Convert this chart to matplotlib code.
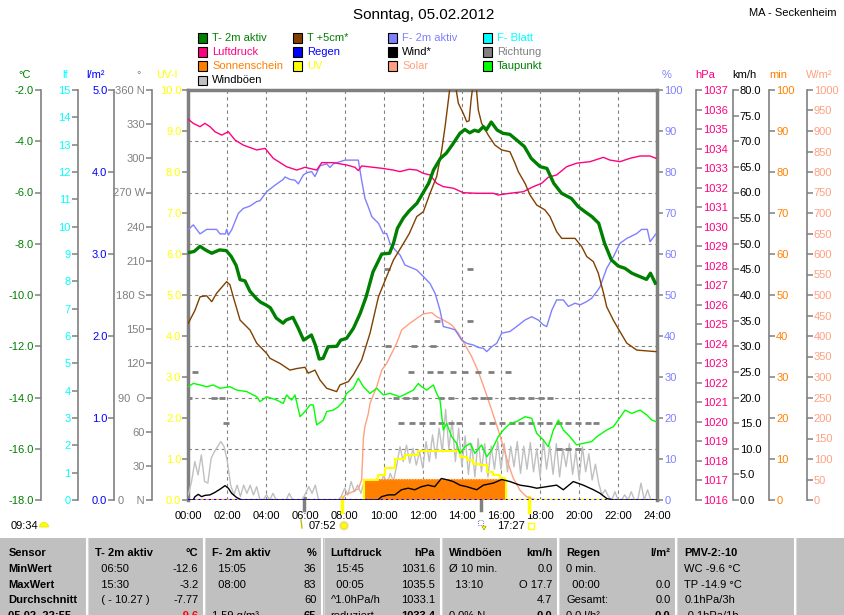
import numpy as np
import matplotlib
matplotlib.use('Agg')
import matplotlib.pyplot as plt
from matplotlib.patches import Rectangle, Circle, Wedge
from matplotlib.lines import Line2D
from matplotlib.transforms import IdentityTransform

plt.rcParams['font.family'] = ['Liberation Sans', 'DejaVu Sans']
plt.rcParams['font.size'] = 8

W, H = 845, 615

# ---------------- data (hours since midnight) ----------------
t2m_h = [0.0, 0.3, 0.6, 0.9, 1.2, 1.6, 1.95, 2.2, 2.45, 2.65, 2.9, 3.15, 3.5, 3.7, 4.0, 4.2,
         4.5, 4.85, 5.0, 5.35, 5.6, 5.9, 6.3, 6.5, 6.7, 6.9, 7.15, 7.6, 7.8, 8.1, 8.45, 8.8,
         9.1, 9.45, 9.9, 10.3, 10.5, 10.7, 11.0, 11.3, 11.7, 12.0, 12.3, 12.55, 12.9, 13.2,
         13.5, 13.9, 14.15, 14.4, 14.65, 14.85, 15.1, 15.25, 15.5, 15.8, 16.1, 16.45, 16.8,
         17.2, 17.55, 18.0, 18.35, 18.7, 19.1, 19.6, 19.95, 20.3, 20.65, 21.0, 21.3, 21.65,
         22.0, 22.35, 22.7, 23.1, 23.45, 23.65, 23.9]
t2m_c = [-8.35, -8.3, -8.1, -8.25, -8.37, -8.24, -8.27, -8.5, -8.85, -9.4, -9.45, -9.85,
         -10.15, -10.28, -10.4, -10.5, -10.9, -11.1, -10.98, -10.87, -11.25, -11.76, -11.56,
         -11.95, -12.5, -12.47, -12.02, -12.0, -11.76, -11.69, -11.3, -10.71, -10.07, -9.1,
         -8.4, -8.37, -7.98, -7.4, -7.0, -6.72, -6.42, -6.03, -5.64, -5.12, -4.67, -4.47,
         -4.15, -3.69, -3.54, -3.67, -3.57, -3.62, -3.43, -3.56, -3.25, -3.56, -3.69, -3.73,
         -3.95, -4.21, -4.67, -4.99, -5.06, -5.64, -6.03, -6.23, -6.55, -6.75, -6.94, -7.2,
         -7.98, -8.63, -8.87, -8.96, -9.15, -9.28, -9.39, -9.15, -9.54]

t5_h = [0.0, 0.34, 0.6, 0.94, 1.2, 1.45, 1.96, 2.13, 2.3, 2.65, 3.16, 3.5, 4.01, 4.18, 4.69,
        5.2, 5.55, 5.97, 6.14, 6.48, 6.74, 7.08, 7.59, 7.76, 8.19, 8.44, 8.87, 9.3, 9.73,
        10.15, 10.5, 11.0, 11.31, 11.69, 12.03, 12.37, 12.71, 12.97, 13.14, 13.31, 13.45,
        13.6, 13.82, 14.07, 14.25, 14.37, 14.47, 14.6, 14.7, 14.84, 15.01, 15.35, 15.69,
        16.04, 16.46, 16.72, 16.89, 17.23, 17.49, 17.83, 18.25, 18.51, 18.85, 19.11, 19.79,
        20.13, 20.39, 20.73, 20.98, 21.24, 21.41, 21.75, 22.09, 22.44, 22.95, 23.93]
t5_c = [-11.1, -10.6, -10.07, -10.03, -10.26, -9.93, -9.48, -9.6, -10.07, -10.98, -11.37,
        -11.88, -12.28, -12.47, -12.67, -12.93, -12.87, -12.82, -13.05, -12.93, -13.32,
        -13.64, -13.77, -13.51, -13.38, -13.12, -12.54, -11.49, -10.07, -9.28, -8.63, -8.0,
        -7.6, -6.94, -6.75, -6.03, -5.38, -4.34, -3.43, -2.39, -1.5, -1.5, -2.52, -2.91,
        -3.24, -3.2, -2.39, -1.6, -1.6, -2.78, -3.3, -3.76, -4.15, -4.34, -4.41, -4.86,
        -5.19, -5.64, -6.1, -6.49, -6.68, -6.94, -7.53, -7.79, -7.79, -8.11, -8.5, -8.7,
        -9.15, -9.9, -10.46, -10.98, -11.43, -11.88, -12.15, -12.21]

rh_h = [0.0, 0.26, 0.6, 0.94, 1.45, 1.62, 1.9, 1.96, 2.05, 2.22, 2.56, 2.81, 3.16, 3.5, 3.67,
        4.01, 4.44, 4.86, 4.95, 5.2, 5.46, 5.63, 5.89, 6.06, 6.31, 6.48, 6.74, 7.08, 7.25,
        7.42, 8.02, 8.7, 8.87, 9.04, 9.21, 9.39, 9.73, 9.98, 10.15, 10.32, 10.58, 10.83,
        11.09, 11.35, 11.69, 12.03, 12.37, 12.63, 12.88, 13.05, 13.39, 13.65, 13.99, 14.25,
        14.59, 14.84, 15.1, 15.27, 15.53, 15.78, 16.04, 16.46, 16.8, 17.23, 17.57, 17.91,
        18.17, 18.34, 18.6, 18.85, 19.19, 19.45, 19.79, 20.05, 20.39, 20.64, 20.9, 21.07,
        21.41, 21.75, 22.09, 22.44, 22.95, 23.2, 23.49, 23.63, 23.93]
rh_pct = [66, 67.1, 64.9, 66, 66, 64.9, 64.9, 66, 64.6, 65.9, 69.9, 71.1, 71.7, 72.8, 73,
          75.2, 76.8, 78.2, 78.8, 78.2, 78, 77.1, 79.3, 79.8, 80.1, 78.9, 81.5, 82, 81.1,
          82, 82.9, 82.9, 78, 73.6, 71.5, 69.1, 67.5, 65, 65, 62.6, 61, 59.8, 57.3, 56.8,
          56.1, 54.5, 52.8, 50.4, 46.3, 42.3, 41.9, 41.5, 39, 38.2, 37.8, 37.2, 37, 36.2,
          37.4, 38.2, 40.7, 41.1, 42.3, 43.9, 44.7, 43.9, 42.7, 42.3, 46.3, 48.8, 48.8, 47.2,
          48, 47.6, 48.4, 49.2, 50.8, 52, 56.5, 59.3, 62.6, 63.8, 65, 66, 66, 63, 64.9]

p_h = [0.0, 0.26, 0.6, 0.85, 1.11, 1.37, 1.71, 2.05, 2.39, 2.81, 3.5, 3.93, 4.35, 5.03, 5.55,
       5.97, 6.57, 6.83, 7.42, 8.1, 8.53, 8.7, 8.87, 9.47, 9.9, 10.49, 10.83, 11.31, 11.69,
       12.03, 12.37, 12.71, 13.05, 13.56, 14.07, 14.76, 15.61, 15.86, 16.46, 17.14, 17.66,
       18.08, 18.42, 18.85, 19.36, 19.87, 20.56, 21.24, 21.58, 22.09, 22.6, 23.12, 23.63,
       23.93]
p_hpa = [1035.5, 1035.29, 1035.12, 1035.29, 1035.12, 1034.86, 1034.69, 1034.86, 1034.44,
         1034.18, 1033.93, 1034.01, 1033.5, 1033.07, 1032.9, 1033.04, 1032.9, 1033.28,
         1033.28, 1033.16, 1033.04, 1032.87, 1033.11, 1033.04, 1032.99, 1032.9, 1032.82,
         1032.94, 1032.9, 1032.73, 1032.65, 1032.22, 1032.05, 1031.97, 1031.74, 1031.71,
         1031.71, 1031.62, 1031.71, 1031.79, 1032.05, 1032.22, 1032.53, 1032.65, 1033.07,
         1033.25, 1033.33, 1033.55, 1033.41, 1033.33, 1033.5, 1033.62, 1033.62, 1033.5]

td_h = [0.0, 0.26, 0.6, 0.94, 1.28, 1.62, 2.13, 2.48, 2.99, 3.5, 3.67, 4.01, 4.52, 4.86, 5.03,
        5.29, 5.46, 5.72, 5.97, 6.23, 6.4, 6.57, 6.91, 7.08, 7.42, 7.68, 7.93, 8.1, 8.44,
        8.7, 8.96, 9.3, 9.64, 9.98, 10.32, 10.83, 11.18, 11.52, 11.77, 11.94, 12.2, 12.54,
        12.71, 12.88, 13.05, 13.22, 13.48, 13.73, 13.9, 14.16, 14.42, 14.67, 15.01, 15.27,
        15.53, 15.86, 16.12, 16.46, 16.8, 17.23, 17.57, 17.83, 18.17, 18.42, 18.68, 18.94,
        19.19, 19.53, 19.87, 20.21, 20.64, 20.9, 21.41, 21.75, 22.0, 22.35, 22.69, 23.12,
        23.46, 23.72, 23.93]
td_c = [-13.58, -13.45, -13.51, -13.58, -13.51, -13.64, -13.58, -13.71, -13.77, -13.97,
        -14.16, -13.97, -14.1, -14.23, -13.9, -14.1, -13.9, -14.75, -14.55, -14.29, -14.29,
        -15.07, -14.88, -14.55, -14.49, -14.36, -14.16, -13.84, -13.64, -13.25, -13.58,
        -13.84, -13.64, -13.9, -13.84, -13.97, -13.84, -13.71, -13.45, -13.58, -13.71,
        -13.51, -13.84, -14.1, -15.27, -15.01, -15.53, -15.79, -16.18, -15.92, -15.79,
        -16.18, -15.85, -16.31, -16.05, -15.53, -15.27, -15.01, -14.94, -14.75, -14.81,
        -15.4, -15.66, -15.92, -15.27, -14.88, -15.27, -15.53, -15.85, -15.79, -15.72,
        -15.53, -15.27, -15.14, -14.88, -14.49, -14.62, -14.49, -14.68, -14.88, -14.94]

# gusts, 10 minute values
gust_kmh = [1.0, 3.6, 7.5, 4.9, 8.8, 3.6, 3.3, 8.1, 9.4, 10.4, 11.4, 10.4,
            7.5, 2.9, 1.0, 2.9, 0.7, 2.9, 1.3, 2.9, 1.0, 2.6, 0.0, 0.0,
            1.0, 0.0, 1.3, 0.0, 0.0, 0.0, 0.0, 1.3, 0.0, 0.0, 0.0, 0.0,
            1.3, 2.6, 1.3, 2.9, 0.0, 0.0, 0.0, 0.0, 0.0, 0.0, 0.0, 0.7,
            2.3, 1.0, 3.6, 1.6, 2.9, 1.3, 3.6, 2.3, 3.9, 1.6, 4.2, 2.9,
            4.9, 2.9, 5.2, 3.6, 6.8, 10.4, 7.5, 10.7, 7.2, 10.1, 6.8, 9.4,
            6.2, 11.4, 7.5, 12.7, 8.1, 14.0, 9.4, 17.7, 10.0, 15.5, 7.5, 14.0,
            6.5, 12.5, 5.0, 11.0, 4.5, 12.0, 5.5, 11.0, 4.5, 10.5, 6.0, 11.5,
            6.0, 11.0, 5.5, 10.5, 6.5, 11.4, 5.2, 10.5, 6.0, 11.2, 5.5, 10.0,
            4.5, 11.7, 6.0, 10.5, 5.0, 11.0, 4.5, 10.0, 6.5, 11.0, 5.0, 9.5,
            4.0, 10.4, 5.5, 9.0, 3.9, 7.0, 3.3, 1.0, 2.0, 0.7, 0.0, 1.6,
            0.0, 0.0, 1.0, 0.0, 1.6, 0.0, 0.0, 3.3, 0.0, 2.0, 0.0, 0.0]
gust_h = np.arange(len(gust_kmh)) / 6.0

wind_h = [0.0, 0.25, 0.34, 0.51, 0.68, 0.85, 1.11, 1.37, 1.62, 1.88, 2.05, 2.22, 2.47, 2.73,
          9.7, 9.89, 10.23, 10.57, 10.91, 11.25, 11.59, 11.93, 12.27, 12.61, 12.95, 13.29,
          13.56, 13.9, 14.25, 14.76, 15.1, 15.61, 16.04, 16.46, 16.97, 17.49, 17.83, 18.34,
          18.85, 19.19, 19.7, 20.21, 20.73, 21.07, 21.41, 21.75, 24.0]
wind_kmh = [0, 0, 0.65, 1.1, 0.65, 0.9, 1.0, 1.5, 2.1, 2.8, 2.3, 1.3, 0.5, 0,
            0, 0.65, 1.0, 1.0, 2.0, 2.3, 2.0, 2.6, 2.9, 2.6, 4.2, 3.9,
            3.6, 2.9, 2.6, 2.0, 2.9, 3.3, 4.0, 3.6, 2.9, 2.6, 2.3, 2.6,
            2.9, 2.0, 3.6, 2.9, 2.0, 1.3, 0.3, 0, 0]

uv_h = [8.95, 9.0, 9.6, 9.72, 10.06, 10.57, 11.08, 11.76, 13.6, 13.9, 14.25, 14.59, 14.93,
        15.27, 15.61, 15.95, 16.2, 16.25, 24.0]
uv_idx = [0, 0.49, 0.49, 0.61, 0.77, 1.0, 1.1, 1.2, 1.2, 1.06, 0.98, 0.89, 0.85,
          0.69, 0.61, 0.53, 0.49, 0, 0]

sun_h = [8.95, 16.25]
sun_min = [5.1, 5.1]

solar_h = [0.0, 7.85, 8.02, 8.36, 8.7, 8.87, 8.96, 9.04, 9.21, 9.3, 9.64, 9.9, 10.15, 10.41,
           10.66, 10.92, 11.34, 11.69, 12.03, 12.46, 12.71, 13.05, 13.48, 13.82, 14.16,
           14.5, 14.84, 15.18, 15.52, 15.86, 16.12, 16.37, 16.63, 16.97, 17.31, 17.65, 17.8,
           24.0]
solar_wm2 = [0, 0, 12, 19, 27, 49, 150, 180, 210, 236, 276, 317, 333, 358, 382, 415, 431,
             443, 454, 457, 447, 439, 427, 407, 378, 350, 313, 268, 220, 171, 130, 89, 53,
             24, 8, 2, 0, 0]

rain_h = [0.0, 24.0]
rain_mm = [0.0, 0.0]

# wind direction readings grouped by direction (degrees)
dir_groups = {
    112.5: [0.35, 11.4, 12.35, 12.9, 13.55, 14.15, 14.85, 15.5, 16.35],
    90.0: [0.05, 1.3, 1.75, 10.65, 11.15, 11.6, 12.95, 13.45, 14.6, 15.1, 15.4, 16.55,
           17.05, 17.55, 18.05, 18.5],
    67.5: [1.95, 10.9, 11.45, 11.95, 12.45, 12.95, 13.45, 13.85, 15.05, 15.55, 16.05,
           16.55, 17.05, 17.55, 18.0, 18.45, 18.95, 19.45, 19.95, 20.45, 20.85],
    45.0: [18.95, 19.45, 19.95],
    135.0: [10.2, 11.55, 12.5],
    157.5: [12.75, 14.4],
    202.5: [10.15, 14.4],
}

sun_events = [7 + 52 / 60, 17 + 27 / 60]
moon_marks = [5.9, 15.0]

# ---------------- figure ----------------
fig = plt.figure(figsize=(W / 100, H / 100), dpi=100)
fig.patch.set_facecolor('white')


def fx(px):
    return px / W


def fy(py):
    return 1 - py / H


X0, X1, Y0, Y1 = 188.3, 657.3, 90, 500
ax = fig.add_axes([fx(X0), fy(Y1), (X1 - X0) / W, (Y1 - Y0) / H])
ax.set_xlim(0, 24)
ax.set_ylim(0, 8)
ax.set_xticks(range(0, 25, 2))
ax.set_xticklabels(['%02d:00' % h for h in range(0, 25, 2)])
ax.set_yticks(range(1, 8))
ax.tick_params(axis='x', length=0, pad=8, labelsize=8)
ax.tick_params(axis='y', length=0, labelleft=False)
ax.grid(True, color='#808080', linestyle=(0, (3, 3)), linewidth=0.8)
for s in ['left', 'right', 'top']:
    ax.spines[s].set_color('#808080')
    ax.spines[s].set_linewidth(2.5)
ax.spines['bottom'].set_visible(False)

GRAY = '#808080'


def scale(lo, hi, ticks, labels, pos, side, color, unit, unit_x, unit_ha):
    a = ax.twinx()
    a.set_ylim(lo, hi)
    for s in a.spines.values():
        s.set_visible(False)
    a.spines[side].set_position(('axes', pos))
    if pos not in (0, 1):
        a.spines[side].set_visible(True)
        a.spines[side].set_color(GRAY)
        a.spines[side].set_linewidth(1.2)
    a.yaxis.set_ticks_position(side)
    a.set_yticks(ticks)
    a.set_yticklabels(labels)
    a.tick_params(axis='y', direction='out', length=4, width=1.1, color=GRAY,
                  labelcolor=color, labelsize=8, pad=1)
    fig.text(fx(unit_x), fy(75), unit, color=color, ha=unit_ha, va='center', fontsize=8)
    return a


def span(x):
    return (x - X0) / (X1 - X0)


# left scales
scale(-18, -2, np.arange(-18, -1, 2), ['%.1f' % v for v in np.arange(-18, -1, 2)],
      span(40.7), 'left', '#008000', '°C', 31, 'right')
scale(0, 15, range(16), [str(v) for v in range(16)],
      span(77.7), 'left', '#00FFFF', 'lf', 68, 'right')
scale(0, 5, range(6), ['%.1f' % v for v in range(6)],
      span(114.3), 'left', '#0000FF', 'l/m²', 105, 'right')
dir_labels = ['0    N', '30', '60', '90  O', '120', '150', '180 S', '210', '240',
              '270 W', '300', '330', '360 N']
scale(0, 360, range(0, 361, 30), dir_labels,
      span(151.7), 'left', GRAY, '°', 141, 'right')
scale(0, 10, range(11), ['%.1f' % v for v in range(11)],
      0, 'left', '#FFFF00', 'UV-I', 178, 'right')
# right scales
scale(0, 100, range(0, 101, 10), [str(v) for v in range(0, 101, 10)],
      1, 'right', '#8080FF', '%', 662, 'left')
scale(1016, 1037, range(1016, 1038), [str(v) for v in range(1016, 1038)],
      span(695.7), 'right', '#FF0080', 'hPa', 695, 'left')
scale(0, 80, range(0, 81, 5), ['%.1f' % v for v in range(0, 81, 5)],
      span(732.7), 'right', 'black', 'km/h', 732, 'left')
scale(0, 100, range(0, 101, 10), [str(v) for v in range(0, 101, 10)],
      span(769.3), 'right', '#FF8000', 'min', 769, 'left')
scale(0, 1000, range(0, 1001, 50), [str(v) for v in range(0, 1001, 50)],
      span(806.7), 'right', '#FFA080', 'W/m²', 806, 'left')


def layer(lo, hi):
    a = ax.twinx()
    a.set_ylim(lo, hi)
    a.axis('off')
    return a


# data layers, bottom to top
layer(0, 80).plot(gust_h, gust_kmh, color='#C0C0C0', lw=1)
a_sun = layer(0, 100)
a_sun.fill_between(sun_h, 0, sun_min, color='#FF8000', lw=0)
a_sun.plot(sun_h, sun_min, color='#FFC080', lw=1, ls=(0, (1, 1)))
a_sun.plot([0, 24], [0, 0], color='#FF8000', lw=1.5)
layer(0, 1000).plot(solar_h, solar_wm2, color='#FFA080', lw=1)
layer(0, 10).plot(uv_h, uv_idx, color='#FFFF00', lw=1.5, drawstyle='steps-post')
layer(0, 80).plot(wind_h, wind_kmh, color='black', lw=1)
a_dir = layer(0, 360)
for deg, hours in dir_groups.items():
    a_dir.plot(hours, [deg] * len(hours), ls='none', marker='_', ms=4.5, mew=2.0, color=GRAY)
layer(0, 5).plot(rain_h, rain_mm, color='#0000FF', lw=1.5, ls=(0, (1, 1.5)))
layer(0, 100).plot(rh_h, rh_pct, color='#8080FF', lw=1)
layer(1016, 1037).plot(p_h, p_hpa, color='#FF0080', lw=1)
layer(-18, -2).plot(td_h, td_c, color='#00FF00', lw=1)
layer(-18, -2).plot(t5_h, t5_c, color='#804000', lw=1)
layer(-18, -2).plot(t2m_h, t2m_c, color='#008000', lw=2.4)

# sunrise / sunset and moon marks below the plot
tr = ax.get_xaxis_transform()
for h in moon_marks:
    ax.plot([h, h], [0.006, -0.024], color=GRAY, lw=2.5, transform=tr, clip_on=False)
for h in sun_events:
    ax.plot([h, h], [0.008, -0.03], color='#FFFF00', lw=2.5, transform=tr, clip_on=False)

# title
fig.text(fx(424), fy(15), 'Sonntag, 05.02.2012', ha='center', va='center', fontsize=11)
fig.text(fx(837), fy(13), 'MA - Seckenheim', ha='right', va='center', fontsize=8)

# legend
legend_rows = [
    [('T- 2m aktiv', '#008000', '#008000'), ('T +5cm*', '#804000', '#008000'),
     ('F- 2m aktiv', '#8080FF', '#8080FF'), ('F- Blatt', '#00FFFF', '#00FFFF')],
    [('Luftdruck', '#FF0080', '#FF0080'), ('Regen', '#0000FF', '#0000FF'),
     ('Wind*', 'black', 'black'), ('Richtung', GRAY, GRAY)],
    [('Sonnenschein', '#FF8000', '#FF8000'), ('UV', '#FFFF00', '#FFFF00'),
     ('Solar', '#FFA080', '#FFA080'), ('Taupunkt', '#00FF00', '#008000')],
    [('Windböen', '#C0C0C0', 'black')],
]
leg_x = [198, 293, 388, 483]
leg_y = [38, 52, 66, 80]
for r, row in enumerate(legend_rows):
    for c, (name, fc, tc) in enumerate(row):
        fig.add_artist(Rectangle((fx(leg_x[c]), fy(leg_y[r] + 4.5)), 9 / W, 9 / H,
                                 transform=fig.transFigure, facecolor=fc,
                                 edgecolor='black', lw=0.8))
        fig.text(fx(leg_x[c] + 14), fy(leg_y[r]), name, color=tc, ha='left',
                 va='center', fontsize=8)

# sun / moon times
fig.text(fx(10.7), fy(525.7), '09:34', ha='left', va='center', fontsize=8)
fig.add_artist(Wedge((44, H - 527), 4.5, 0, 180, transform=IdentityTransform(),
                     facecolor='#FFFF00', edgecolor='#E0E000', lw=0.5))
fig.text(fx(309), fy(525.7), '07:52', ha='left', va='center', fontsize=8)
fig.add_artist(Circle((344, H - 525.7), 3.5, transform=IdentityTransform(),
                      facecolor='#FFFF00', edgecolor='#F0E060', lw=1.5))
fig.add_artist(Line2D([301, 302], [H - 520, H - 528], transform=IdentityTransform(),
                      color='#C0C000', lw=1))
fig.text(fx(497), fy(525.7), '17:27', ha='left', va='center', fontsize=8)
fig.add_artist(Rectangle((528, H - 529), 6, 6, transform=IdentityTransform(),
                         facecolor='none', edgecolor='#FFFF00', lw=1))
fig.add_artist(Rectangle((478, H - 525), 5, 5, transform=IdentityTransform(),
                         facecolor='none', edgecolor='#4040C0', lw=0.6, ls=':'))
fig.add_artist(Wedge((484, H - 530), 4, 60, 120, transform=IdentityTransform(),
                     facecolor='#FFFF00', edgecolor='#A0A000', lw=0.5))

# summary table
table_cols = ['Sensor', 'T- 2m aktiv', 'F- 2m aktiv', 'Luftdruck', 'Windböen', 'Regen',
              'PMV-2:-10']
table_units = ['', '°C', '%', 'hPa', 'km/h', 'l/m²', '']
row_names = ['MinWert', 'MaxWert', 'Durchschnitt', '05.02. 22:55']
cells_left = [
    ['  06:50', '  15:05', '  15:45', 'Ø 10 min.', '0 min.', 'WC -9.6 °C'],
    ['  15:30', '  08:00', '  00:05', '  13:10', '  00:00', 'TP -14.9 °C'],
    ['  ( - 10.27 )', '', '^1.0hPa/h', '', 'Gesamt:', '0.1hPa/3h'],
    ['', '1.59 g/m³', 'reduziert', '0.0% N', '0.0 l/h²', '-0.1hPa/1h'],
]
cells_right = [
    ['-12.6', '36', '1031.6', '0.0', '', ''],
    ['-3.2', '83', '1035.5', 'O 17.7', '0.0', ''],
    ['-7.77', '60', '1033.1', '4.7', '0.0', ''],
    ['-9.6', '65', '1033.4', '0.0', '0.0', ''],
]
col_edges = [0, 87, 204, 322, 440.7, 558, 676, 795]
row_y = [552.7, 569, 584.7, 600.3, 616]

fig.add_artist(Rectangle((0, fy(615)), 1, (615 - 538) / H, transform=fig.transFigure,
                         facecolor='#C0C0C0', edgecolor='none'))
for x in col_edges[1:]:
    fig.add_artist(Line2D([fx(x), fx(x)], [fy(538), fy(615)], transform=fig.transFigure,
                          color='white', lw=1.5))
    fig.add_artist(Line2D([fx(x + 1.5), fx(x + 1.5)], [fy(538), fy(615)],
                          transform=fig.transFigure, color='#D8D8D8', lw=0.8))

for c, name in enumerate(table_cols):
    fig.text(fx(col_edges[c] + 8.5), fy(row_y[0]), name, ha='left', va='center',
             fontsize=8, fontweight='bold')
    if table_units[c]:
        fig.text(fx(col_edges[c + 1] - 5.5), fy(row_y[0]), table_units[c], ha='right',
                 va='center', fontsize=8, fontweight='bold')
for r, rname in enumerate(row_names):
    fig.text(fx(8.5), fy(row_y[r + 1]), rname, ha='left', va='center', fontsize=8,
             fontweight='bold')
    for c in range(6):
        fig.text(fx(col_edges[c + 1] + 8.5), fy(row_y[r + 1]), cells_left[r][c],
                 ha='left', va='center', fontsize=8)
        val = cells_right[r][c]
        if val:
            last = r == 3
            fig.text(fx(col_edges[c + 2] - 5.5), fy(row_y[r + 1]), val, ha='right',
                     va='center', fontsize=8,
                     fontweight='bold' if last else 'normal',
                     color='red' if (last and c == 0) else 'black')

fig.savefig('out.png', dpi=100)
